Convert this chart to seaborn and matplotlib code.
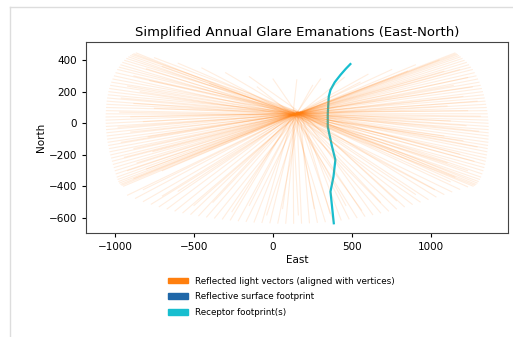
import pandas as pd
import matplotlib
matplotlib.use('Agg')
import matplotlib.pyplot as plt
import seaborn as sns
from matplotlib.patches import Patch
from matplotlib.lines import Line2D

# vertices of the reflective surface (rays start from them in turn)
vertex_x = [125, 150, 172, 145]
vertex_y = [52, 62, 68, 58]

# end points of the reflected light vectors
# left side, upper-left tip down to lower-left tip
left_y = [445, 440, 435, 428, 420, 410, 398, 385, 370, 355, 340, 320, 300, 280, 260, 240, 220,
          200, 180, 160, 140, 120, 100, 80, 60, 40, 20, 0, -20, -40, -60, -80, -100, -120,
          -140, -160, -180, -200, -220, -240, -260, -280, -300, -320, -340, -355, -368, -378,
          -386, -392, -398]
left_x = [-865, -880, -890, -900, -912, -925, -938, -950, -962, -972, -982, -993, -1003, -1012,
          -1020, -1027, -1033, -1038, -1042, -1046, -1049, -1051, -1053, -1054, -1055, -1056,
          -1056, -1055, -1054, -1053, -1051, -1049, -1046, -1043, -1039, -1035, -1031, -1026,
          -1021, -1016, -1010, -1004, -998, -992, -986, -980, -975, -970, -962, -955, -945]
# bottom arc
bottom_x = [-920, -870, -820, -770, -720, -670, -620, -570, -520, -470, -420, -370, -320, -270,
            -220, -170, -120, -70, -20, 30, 80, 130, 180, 230, 280, 330, 380, 430, 480, 530,
            580, 630, 680, 730, 780, 830, 880, 930, 980, 1030, 1080, 1130, 1180, 1230]
bottom_y = [-455, -475, -495, -512, -528, -542, -555, -566, -576, -585, -593, -600, -606, -612,
            -617, -621, -625, -628, -630, -632, -633, -633, -632, -630, -627, -623, -618, -612,
            -605, -597, -588, -578, -567, -555, -542, -528, -513, -498, -482, -466, -450, -434,
            -418, -402]
# right side, lower-right tip up to upper-right tip
right_y = [-398, -392, -386, -378, -368, -355, -340, -320, -300, -280, -260, -240, -220, -200,
           -180, -160, -140, -120, -100, -80, -60, -40, -20, 0, 20, 40, 60, 80, 100, 120, 140,
           160, 180, 200, 220, 240, 260, 280, 300, 320, 340, 355, 370, 385, 398, 410, 420, 428,
           435, 440, 445]
right_x = [1265, 1275, 1282, 1290, 1297, 1305, 1312, 1320, 1327, 1333, 1338, 1342, 1346, 1349,
           1352, 1354, 1356, 1358, 1359, 1360, 1360, 1360, 1360, 1359, 1358, 1356, 1354, 1351,
           1348, 1344, 1340, 1335, 1330, 1324, 1317, 1310, 1302, 1293, 1283, 1272, 1260, 1248,
           1236, 1222, 1208, 1195, 1183, 1173, 1165, 1158, 1150]
# sparse top arc
top_x = [1050, 900, 750, 600, 450, 300, 150, 0, -150, -300, -450, -600, -750]
top_y = [400, 370, 340, 310, 290, 280, 275, 280, 295, 320, 350, 380, 415]

# shorter vectors that end inside the fan
inner_x = [-700, -800, -880, -780, -920, -840, -960, -880, -750, -970, -900, -820, -980, -900,
           -790, -960, -880, -760, -940, -860, -920, -800, -880, -700,
           -820, -700, -600, -500, -380, -260, -150, -40, 60, 160, 260, 360, 460, 560, 680,
           780, 900, 1020, 1120,
           1150, 1230, 1100, 1270, 1180, 1290, 1200, 1080, 1300, 1220, 1120, 1310, 1230, 1100,
           1290, 1200, 1260, 1140, 1230, 1180, 1080,
           -400, -100, 250, 550, 850]
inner_y = [360, 345, 300, 270, 235, 200, 160, 125, 95, 70, 40, 10, -25, -55,
           -85, -120, -160, -180, -215, -250, -300, -290, -350, -300,
           -420, -460, -430, -520, -500, -560, -520, -580, -540, -580, -540, -570, -520, -550,
           -500, -490, -450, -420, -370,
           -340, -300, -250, -240, -195, -150, -110, -80, -50, -15, 15, 45, 80, 110,
           140, 170, 230, 240, 290, 340, 330,
           250, 230, 240, 260, 330]

# receptor path
receptor_x = [489, 460, 426, 390, 363, 352, 346, 346, 373, 394, 382, 363, 373, 384]
receptor_y = [375, 345, 306, 260, 211, 168, 60, -22, -148, -232, -338, -433, -528, -633]

end_x = left_x + bottom_x + right_x + top_x + inner_x
end_y = left_y + bottom_y + right_y + top_y + inner_y
rows = []
for i, (ex, ey) in enumerate(zip(end_x, end_y)):
    v = i % len(vertex_x)
    rows.append((i, vertex_x[v], vertex_y[v]))
    rows.append((i, ex, ey))
rays = pd.DataFrame(rows, columns=['ray', 'East', 'North'])
receptor = pd.DataFrame({'East': receptor_x, 'North': receptor_y})

fig = plt.figure(figsize=(5.13, 3.37), dpi=100)
ax = fig.add_axes([0.168, 0.308, 0.822, 0.568])

# receptor first, the glare vectors are drawn over it
sns.lineplot(data=receptor, x='East', y='North', sort=False, estimator=None,
             color='#17becf', linewidth=1.6, ax=ax, legend=False)
sns.lineplot(data=rays, x='East', y='North', units='ray', estimator=None, sort=False,
             color='#ff7f0e', alpha=0.13, linewidth=0.8, ax=ax, legend=False)

ax.set_xlim(-1182, 1485)
ax.set_ylim(-696, 516)
ax.set_xticks([-1000, -500, 0, 500, 1000])
ax.set_yticks([-600, -400, -200, 0, 200, 400])
ax.tick_params(labelsize=7.5, length=3)
ax.set_xlabel('East', fontsize=7.5, labelpad=2)
ax.set_ylabel('North', fontsize=7.5, labelpad=2)
ax.set_title('Simplified Annual Glare Emanations (East-North)', fontsize=9.5, pad=4)
for s in ax.spines.values():
    s.set_color('#444444')

handles = [Patch(color='#ff7f0e', label='Reflected light vectors (aligned with vertices)'),
           Patch(color='#1f67a8', label='Reflective surface footprint'),
           Patch(color='#17becf', label='Receptor footprint(s)')]
ax.legend(handles=handles, loc='upper center', bbox_to_anchor=(0.463, -0.186),
          frameon=False, fontsize=6.3, handlelength=2.2, handleheight=0.6,
          labelspacing=0.75)

# notebook cell border
fig.add_artist(Line2D([10 / 513, 10 / 513], [0.0, 1 - 7 / 337], color='#dddddd', lw=1))
fig.add_artist(Line2D([10 / 513, 1.0], [1 - 7 / 337, 1 - 7 / 337], color='#dddddd', lw=1))

fig.savefig('out.png', dpi=100)
